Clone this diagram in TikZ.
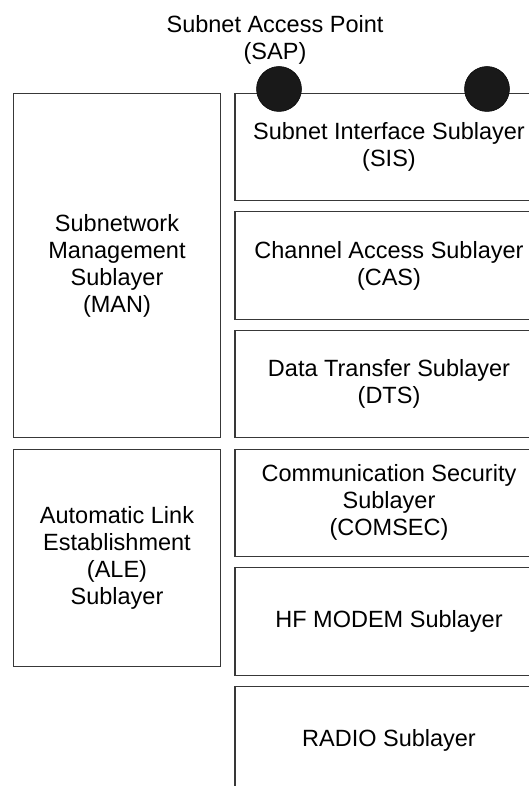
\documentclass[tikz,border=0pt]{standalone}
\usepackage{fontspec}
\setmainfont{Liberation Sans}
\begin{document}
\begin{tikzpicture}[x=1pt,y=-1pt,
  every node/.style={font=\fontsize{23.5}{27}\selectfont, align=center, inner sep=0pt},
  layer/.style={draw=black!78, line width=1.1pt, rectangle},
  rbox/.style={layer, minimum width=308pt, minimum height=107.4pt},
  lbox/.style={layer, minimum width=207.4pt},
  sap/.style={circle, fill=black!90, draw=black, line width=0.5pt, minimum size=45pt}]
\useasboundingbox (0,0) rectangle (529,786);
\clip (0,0) rectangle (529,786);
% title
\node (title) at (275,40) {Subnet Access Point\\(SAP)};
% right column
\node[rbox] (sis) at (389,147.0) {Subnet Interface Sublayer\\(SIS)};
\node[rbox] (cas) at (389,265.6) {Channel Access Sublayer\\(CAS)};
\node[rbox] (dts) at (389,384.2) {Data Transfer Sublayer\\(DTS)};
\node[rbox] (comsec) at (389,502.8) {Communication Security\\Sublayer\\(COMSEC)};
\node[rbox] (modem) at (389,621.4) {HF MODEM Sublayer};
\node[rbox] (radio) at (389,740.0) {RADIO Sublayer};
% left column
\node[lbox, minimum height=344.6pt] (man) at (117,265.6) {Subnetwork\\Management\\Sublayer\\(MAN)};
\node[lbox, minimum height=217.6pt] (ale) at (117,557.9) {Automatic Link\\Establishment\\(ALE)\\Sublayer};
% access points
\node[sap] (sap1) at (279,89) {};
\node[sap] (sap2) at (487,89) {};
\end{tikzpicture}
\end{document}
